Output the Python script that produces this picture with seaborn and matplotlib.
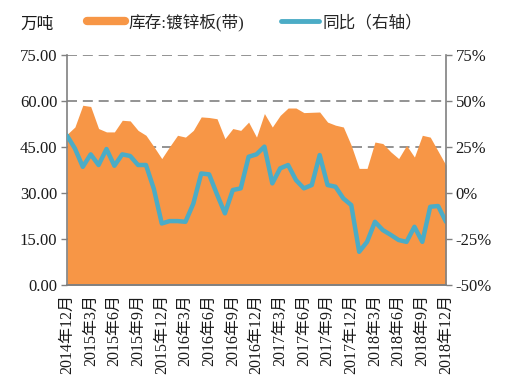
import numpy as np
import pandas as pd
import seaborn as sns
import matplotlib.pyplot as plt
from matplotlib.lines import Line2D

# monthly data, 2014-12 .. 2018-12
inventory = [49, 51.4, 58.5, 58.1, 50.9, 49.8, 49.8, 53.6, 53.4, 50.3,
             48.7, 45, 41.1, 45, 48.7, 48.1, 50.3, 54.7, 54.5, 54.1,
             47.6, 50.9, 50.3, 53, 48.1, 55.8, 51.4, 55.2, 57.6, 57.6,
             56.1, 56.2, 56.3, 53, 52, 51.4, 45.4, 37.9, 37.9, 46.5,
             46, 43.3, 41.1, 45.4, 41.6, 48.7, 48.1, 43.5, 38.9]
yoy = [31, 24, 14, 20.8, 15, 23.7, 14.6, 20.8, 19.9, 15,
       15, 2, -16.8, -15.5, -15.5, -15.9, -6, 10.4, 9.9, -1,
       -11.3, 1.4, 2.3, 19.5, 20.8, 25, 5, 13.2, 15, 6.8,
       2.3, 4.1, 20.4, 4.1, 3.2, -3.2, -6.8, -32.2, -26.8, -15.9,
       -20.4, -23, -25.8, -26.8, -18.6, -26.8, -7.7, -7.3, -15.9]
tick_labels = ["2014年12月", "2015年3月", "2015年6月", "2015年9月", "2015年12月",
               "2016年3月", "2016年6月", "2016年9月", "2016年12月",
               "2017年3月", "2017年6月", "2017年9月", "2017年12月",
               "2018年3月", "2018年6月", "2018年9月", "2018年12月"]
left_ticks = [0, 15, 30, 45, 60, 75]
right_ticks = [-50, -25, 0, 25, 50, 75]

df = pd.DataFrame({"idx": np.arange(len(inventory)), "inv": inventory, "yoy": yoy})

sns.set_style("white")
plt.rcParams["font.family"] = ["Liberation Serif", "Noto Sans CJK SC"]

orange = "#F79646"
teal = "#4BACC6"
gray = "#808080"

fig = plt.figure(figsize=(5.17, 3.89), dpi=100)
ax = fig.add_axes([0.1296, 0.2686, 0.7331, 0.5908])

# area - inventory
ax.fill_between(df["idx"], df["inv"], color=orange, lw=0, zorder=2)
for y in left_ticks[1:]:
    ax.axhline(y, color=gray, lw=1.2, ls=(0, (6, 3.5)), zorder=1)
ax.set_xlim(0, len(inventory) - 1)
ax.set_ylim(0, 75)
ax.set_yticks(left_ticks)
ax.set_yticklabels([f"{v:.2f}" for v in left_ticks])
ax.set_xticks(np.arange(0, len(inventory), 3))
ax.set_xticklabels(tick_labels, rotation=90)
ax.tick_params(axis="y", direction="out", length=4, color=gray, width=1, labelsize=12, pad=3)
ax.tick_params(axis="x", direction="out", length=5, color=gray, width=1, labelsize=11.5, pad=2)

# line - yoy on right axis
ax2 = ax.twinx()
sns.lineplot(data=df, x="idx", y="yoy", ax=ax2, color=teal, lw=3.2, legend=False)
ax2.set_ylim(-50, 75)
ax2.set_yticks(right_ticks)
ax2.set_yticklabels([f"{v}%" for v in right_ticks])
ax2.tick_params(axis="y", direction="out", length=4, color=gray, width=1, labelsize=12, pad=3)
ax2.set_xlabel("")
ax2.set_ylabel("")
ax.set_xlabel("")
ax.set_ylabel("")

for a in (ax, ax2):
    a.spines["top"].set_visible(False)
    for s in a.spines.values():
        s.set_color(gray)
        s.set_linewidth(1.2)
ax.spines["right"].set_visible(False)
ax2.spines["left"].set_visible(False)

for lab in ax.get_xticklabels() + ax.get_yticklabels() + ax2.get_yticklabels():
    lab.set_color("#1a1a1a")

# legend
handles = [Line2D([], [], color=orange, lw=6), Line2D([], [], color=teal, lw=3.5)]
fig.legend(handles, ["库存:镀锌板(带)", "同比（右轴）"], loc="center",
           bbox_to_anchor=(0.492, 0.943), ncol=2, frameon=False, fontsize=12,
           handlelength=2.3, handletextpad=0.2, columnspacing=2.2)
fig.text(20 / 517, 1 - 25 / 389, "万吨", ha="left", va="center", fontsize=12, color="#1a1a1a")

fig.savefig("out.png", dpi=100)
